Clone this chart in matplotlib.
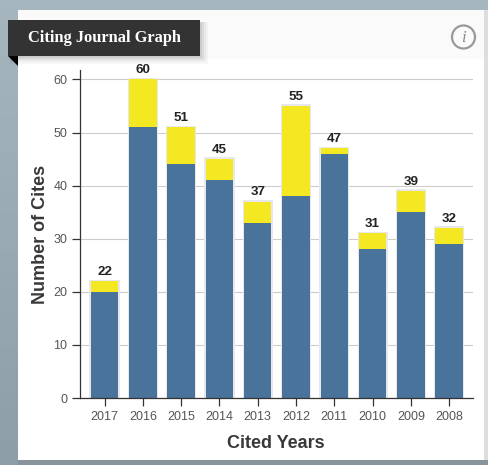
import matplotlib
matplotlib.use("Agg")
import matplotlib.pyplot as plt
from matplotlib.patches import Rectangle, Circle, Polygon
import numpy as np

years = ["2017", "2016", "2015", "2014", "2013", "2012", "2011", "2010", "2009", "2008"]
blue_values = [20, 51, 44, 41, 33, 38, 46, 28, 35, 29]
totals = [22, 60, 51, 45, 37, 55, 47, 31, 39, 32]
yellow_values = [t - b for t, b in zip(totals, blue_values)]
y_ticks = [0, 10, 20, 30, 40, 50, 60]

W, H = 488, 465
fig = plt.figure(figsize=(W / 100, H / 100), dpi=100)
plt.rcParams['font.family'] = ['Liberation Sans', 'DejaVu Sans']

# page layer in pixel coordinates
bg = fig.add_axes([0, 0, 1, 1])
bg.axis('off')
grad = np.linspace(0, 1, 256).reshape(-1, 1)
bg.imshow(grad, extent=(0, W, H, 0), aspect='auto',
          cmap=matplotlib.colors.LinearSegmentedColormap.from_list('p', ['#a6b6be', '#8e9ea8']))
bg.set_xlim(0, W)
bg.set_ylim(H, 0)
bg.add_patch(Rectangle((18, 10), 466, 450, color='white', lw=0))
bg.add_patch(Rectangle((18, 10), 466, 49, color='#fafafa', lw=0))
bg.add_patch(Rectangle((484, 0), 4, 465, color='#dcdfe1', lw=0))
bg.add_patch(Rectangle((18, 460), 470, 5, color='#87949b', lw=0))
bg.add_patch(Rectangle((0, 0), 488, 10, color='#a6b6be', lw=0))

# title ribbon
for g, a in [(8, 0.03), (6, 0.04), (4, 0.05), (2, 0.07)]:
    bg.add_patch(Rectangle((10, 22), 190 + g, 34 + g, color='#000000', alpha=a, lw=0))
bg.add_patch(Rectangle((8, 20), 192, 36, color='#333333', lw=0))
bg.add_patch(Polygon([(8, 56), (18, 56), (18, 66)], closed=True, color='#000000', lw=0))
bg.text(27.5, 38, "Citing Journal Graph", color='white', fontsize=11.8, fontweight='bold',
        family=['Liberation Serif'], va='center', ha='left')

# info icon
bg.add_patch(Circle((463.5, 37), 11.5, fill=False, ec='#999999', lw=1.6))
bg.text(463.5, 37.5, "i", color='#888888', fontsize=12, style='italic', family=['Liberation Serif'],
        ha='center', va='center')

# chart
left, right, top, bottom = 80, 473, 70, 398
ax = fig.add_axes([left / W, 1 - bottom / H, (right - left) / W, (bottom - top) / H])
ax.patch.set_alpha(0)
x = np.arange(len(years))
ax.set_xlim(-0.64, 9.62)
ax.set_ylim(0, (bottom - top) / 5.31)
ax.yaxis.grid(True, color='#cccccc', lw=0.8)
ax.set_axisbelow(True)
bw = 27.5 / 38.3
ax.bar(x, np.array(totals) + 0.3, width=bw + 0.07, color='#e6e8ee', zorder=2)
ax.bar(x, blue_values, width=bw, color='#4a739c', zorder=3)
ax.bar(x, yellow_values, width=bw, bottom=blue_values, color='#f4e822', zorder=3)
for xi, t in zip(x, totals):
    ax.annotate(str(t), (xi, t), xytext=(0, 2.3), textcoords='offset points', ha='center', va='bottom',
                fontsize=9.6, fontweight='bold', color='#222222', zorder=5)
ax.set_xticks(x, years)
ax.set_yticks(y_ticks)
ax.tick_params(axis='both', labelsize=9, labelcolor='#555555', color='#333333', length=6, width=0.9, pad=3)
for s in ['top', 'right']:
    ax.spines[s].set_visible(False)
for s in ['left', 'bottom']:
    ax.spines[s].set_color('#333333')
    ax.spines[s].set_linewidth(0.9)
    ax.spines[s].set_zorder(6)
bg.text(276, 443, "Cited Years", fontsize=13, fontweight='bold', color='#383838', ha='center', va='center')
bg.text(40.5, 234, "Number of Cites", fontsize=13, fontweight='bold', color='#383838', ha='center', va='center',
        rotation=90)

fig.savefig("out.png", dpi=100)
